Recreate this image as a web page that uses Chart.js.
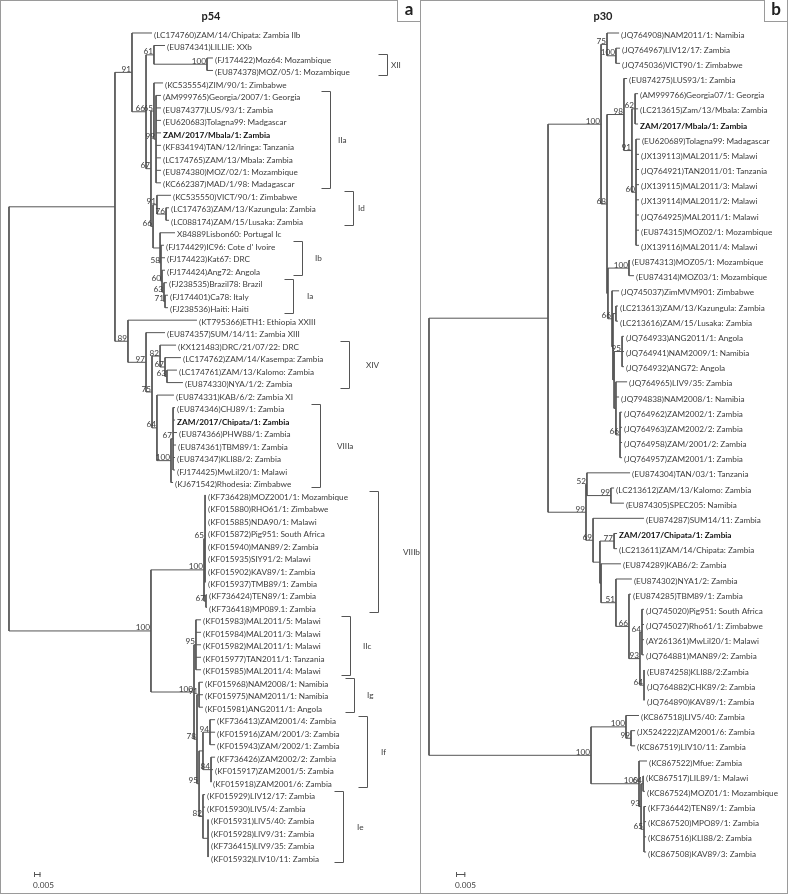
<!DOCTYPE html>
<html>
<head>
<meta charset="utf-8">
<script src="https://cdn.jsdelivr.net/npm/chart.js@4.4.1/dist/chart.umd.min.js"></script>
<style>
  body { margin: 0; background: #fff; }
  #wrap { position: relative; width: 788px; height: 894px; font-family: Lato, sans-serif; }
  canvas { position: absolute; top: 0; }
  .frame { position: absolute; left: 0; top: 0; width: 788px; height: 894px; box-sizing: border-box; border: 1px solid #9a9a9a; pointer-events: none; }
  .divider { position: absolute; left: 420px; top: 0; width: 1px; height: 894px; background: #9a9a9a; }
  .tag { position: absolute; top: 0; width: 24px; height: 22px; box-sizing: border-box; border: 1px solid #9a9a9a; border-top: none; background: #fff;
         font: bold 17px Lato, sans-serif; text-align: center; line-height: 18px; color: #222; }
</style>
</head>
<body>
<div id="wrap">
  <canvas id="treeA" width="421" height="894" style="left:0"></canvas>
  <canvas id="treeB" width="367" height="894" style="left:421px"></canvas>
  <div class="frame"></div>
  <div class="divider"></div>
  <div class="tag" style="left:397px">a</div>
  <div class="tag" style="left:764px">b</div>
</div>
<script>
// ---------- panel a : p54 ----------
const leavesA = [
  "(LC174760)ZAM/14/Chipata: Zambia IIb", "(EU874341)LILLIE: XXb", "(FJ174422)Moz64: Mozambique",
  "(EU874378)MOZ/05/1: Mozambique", "(KC535554)ZIM/90/1: Zimbabwe", "(AM999765)Georgia/2007/1: Georgia",
  "(EU874377)LUS/93/1: Zambia", "(EU620683)Tolagna99: Madgascar", "ZAM/2017/Mbala/1: Zambia",
  "(KF834194)TAN/12/Iringa: Tanzania", "(LC174765)ZAM/13/Mbala: Zambia", "(EU874380)MOZ/02/1: Mozambique",
  "(KC662387)MAD/1/98: Madagascar", "(KC535550)VICT/90/1: Zimbabwe", "(LC174763)ZAM/13/Kazungula: Zambia",
  "(LC088174)ZAM/15/Lusaka: Zambia", "X84889Lisbon60: Portugal Ic", "(FJ174429)IC96: Cote d' Ivoire",
  "(FJ174423)Kat67: DRC", "(FJ174424)Ang72: Angola", "(FJ238535)Brazil78: Brazil",
  "(FJ174401)Ca78: Italy", "(FJ238536)Haiti: Haiti", "(KT795366)ETH1: Ethiopia XXIII",
  "(EU874357)SUM/14/11: Zambia XIII", "(KX121483)DRC/21/07/22: DRC", "(LC174762)ZAM/14/Kasempa: Zambia",
  "(LC174761)ZAM/13/Kalomo: Zambia", "(EU874330)NYA/1/2: Zambia", "(EU874331)KAB/6/2: Zambia XI",
  "(EU874346)CHJ89/1: Zambia", "ZAM/2017/Chipata/1: Zambia", "(EU874366)PHW88/1: Zambia",
  "(EU874361)TBM89/1: Zambia", "(EU874347)KLI88/2: Zambia", "(FJ174425)MwLil20/1: Malawi",
  "(KJ671542)Rhodesia: Zimbabwe", "(KF736428)MOZ2001/1: Mozambique", "(KF015880)RHO61/1: Zimbabwe",
  "(KF015885)NDA90/1: Malawi", "(KF015872)Pig951: South Africa", "(KF015940)MAN89/2: Zambia",
  "(KF015935)SIY91/2: Malawi", "(KF015902)KAV89/1: Zambia", "(KF015937)TMB89/1: Zambia",
  "(KF736424)TEN89/1: Zambia", "(KF736418)MP089.1: Zambia", "(KF015983)MAL2011/5: Malawi",
  "(KF015984)MAL2011/3: Malawi", "(KF015982)MAL2011/1: Malawi", "(KF015977)TAN2011/1: Tanzania",
  "(KF015985)MAL2011/4: Malawi", "(KF015968)NAM2008/1: Namibia", "(KF015975)NAM2011/1: Namibia",
  "(KF015981)ANG2011/1: Angola", "(KF736413)ZAM2001/4: Zambia", "(KF015916)ZAM/2001/3: Zambia",
  "(KF015943)ZAM/2002/1: Zambia", "(KF736426)ZAM2002/2: Zambia", "(KF015917)ZAM2001/5: Zambia",
  "(KF015918)ZAM2001/6: Zambia", "(KF015929)LIV12/17: Zambia", "(KF015930)LIV5/4: Zambia",
  "(KF015931)LIV5/40: Zambia", "(KF015928)LIV9/31: Zambia", "(KF736415)LIV9/35: Zambia",
  "(KF015932)LIV10/11: Zambia"
];
// distance from root of each tip (substitutions/site)
const tipA = [
  0.1100, 0.1200, 0.1569, 0.1569, 0.1185, 0.1169, 0.1169, 0.1169, 0.1169, 0.1169,
  0.1169, 0.1169, 0.1169, 0.1246, 0.1231, 0.1231, 0.1277, 0.1192, 0.1200, 0.1200,
  0.1215, 0.1223, 0.1223, 0.1446, 0.1200, 0.1285, 0.1323, 0.1292, 0.1338, 0.1269,
  0.1277, 0.1277, 0.1292, 0.1285, 0.1277, 0.1277, 0.1262, 0.1515, 0.1515, 0.1515,
  0.1515, 0.1515, 0.1515, 0.1515, 0.1515, 0.1523, 0.1523, 0.1477, 0.1477, 0.1477,
  0.1477, 0.1477, 0.1492, 0.1492, 0.1492, 0.1585, 0.1585, 0.1585, 0.1585, 0.1569,
  0.1554, 0.1508, 0.1508, 0.1538, 0.1538, 0.1538, 0.1538
];
const boldA = [8, 31];
// internal nodes: children (leaf index >= 0, -k = node k), depth, bootstrap
const kidsA = [
  [-1, -26], [-2, -17], [0, -3], [-4, -6], [1, -5], [2, 3], [-7, -9], [4, -8],
  [5, 6, 7, 8, 9, 10, 11, 12], [-10, -12], [13, -11], [14, 15], [16, -13], [17, 18, -14],
  [19, -15], [20, -16], [21, 22], [23, -18], [24, -19], [-20, -23], [25, -21], [26, -22],
  [27, 28], [29, -24], [-25, 36], [30, 31, 32, 33, 34, 35], [-27, -30], [-28, -29],
  [37, 38, 39, 40, 41, 42, 43, 44], [45, 46], [-31, -32], [47, 48, 49, 50, 51], [-33, -34],
  [52, 53, 54], [-35, -38], [-36, -37], [55, 56, 57], [58, 59, 60], [61, 62, -39], [63, 64, 65, 66]
];
const nodeDepthA = [
  0, 0.0815, 0.0946, 0.1054, 0.1115, 0.1523, 0.1092, 0.1115, 0.1131, 0.1108,
  0.1138, 0.1208, 0.1162, 0.1169, 0.1177, 0.1192, 0.1200, 0.0915, 0.1054, 0.1100,
  0.1162, 0.1200, 0.1215, 0.1138, 0.1246, 0.1262, 0.1092, 0.1500, 0.1508, 0.1515,
  0.1423, 0.1438, 0.1446, 0.1462, 0.1462, 0.1492, 0.1546, 0.1554, 0.1492, 0.1531
];
const supportA = [
  "", "", 91, 66, 61, 100, 67, 65, 99, 66, 91, 76, "", 58, 60, 63, 71, 89, 97, 75,
  82, 67, 63, 64, 100, 67, 100, 100, 65, 67, 100, 95, 78, 91, 95, "", 94, 84, 82, ""
];
const cladeNameA = ["XII", "IIa", "Id", "Ib", "Ia", "XIV", "VIIIa", "VIIIb", "IIc", "Ig", "If", "Ie"];
const cladeFromA = [2, 5, 13, 17, 20, 25, 30, 37, 47, 52, 55, 61];
const cladeToA   = [3, 12, 15, 19, 22, 28, 36, 46, 51, 54, 60, 66];

// ---------- panel b : p30 ----------
const leavesB = [
  "(JQ764908)NAM2011/1: Namibia", "(JQ764967)LIV12/17: Zambia", "(JQ745036)VICT90/1: Zimbabwe",
  "(EU874275)LUS93/1: Zambia", "(AM999766)Georgia07/1: Georgia", "(LC213615)Zam/13/Mbala: Zambia",
  "ZAM/2017/Mbala/1: Zambia", "(EU620689)Tolagna99: Madagascar", "(JX139113)MAL2011/5: Malawi",
  "(JQ764921)TAN2011/01: Tanzania", "(JX139115)MAL2011/3: Malawi", "(JX139114)MAL2011/2: Malawi",
  "(JQ764925)MAL2011/1: Malawi", "(EU874315)MOZ02/1: Mozambique", "(JX139116)MAL2011/4: Malawi",
  "(EU874313)MOZ05/1: Mozambique", "(EU874314)MOZ03/1: Mozambique", "(JQ745037)ZimMVM901: Zimbabwe",
  "(LC213613)ZAM/13/Kazungula: Zambia", "(LC213616)ZAM/15/Lusaka: Zambia", "(JQ764933)ANG2011/1: Angola",
  "(JQ764941)NAM2009/1: Namibia", "(JQ764932)ANG72: Angola", "(JQ764965)LIV9/35: Zambia",
  "(JQ794838)NAM2008/1: Namibia", "(JQ764962)ZAM2002/1: Zambia", "(JQ764963)ZAM2002/2: Zambia",
  "(JQ764958)ZAM/2001/2: Zambia", "(JQ764957)ZAM2001/1: Zambia", "(EU874304)TAN/03/1: Tanzania",
  "(LC213612)ZAM/13/Kalomo: Zambia", "(EU874305)SPEC205: Namibia", "(EU874287)SUM14/11: Zambia",
  "ZAM/2017/Chipata/1: Zambia", "(LC213611)ZAM/14/Chipata: Zambia", "(EU874289)KAB6/2: Zambia",
  "(EU874302)NYA1/2: Zambia", "(EU874285)TBM89/1: Zambia", "(JQ745020)Pig951: South Africa",
  "(JQ745027)Rho61/1: Zimbabwe", "(AY261361)MwLil20/1: Malawi", "(JQ764881)MAN89/2: Zambia",
  "(EU874258)KLI88/2:Zambia", "(JQ764882)CHK89/2: Zambia", "(JQ764890)KAV89/1: Zambia",
  "(KC867518)LIV5/40: Zambia", "(JX524222)ZAM2001/6: Zambia", "(KC867519)LIV10/11: Zambia",
  "(KC867522)Mfue: Zambia", "(KC867517)LIL89/1: Malawi", "(KC867524)MOZ01/1: Mozambique",
  "(KF736442)TEN89/1: Zambia", "(KC867520)MPO89/1: Zambia", "(KC867516)KLI88/2: Zambia",
  "(KC867508)KAV89/3: Zambia"
];
const tipB = [
  0.1022, 0.1027, 0.1027, 0.1065, 0.1124, 0.1124, 0.1124, 0.1134, 0.1129, 0.1129,
  0.1129, 0.1129, 0.1129, 0.1129, 0.1129, 0.1081, 0.1102, 0.1022, 0.1016, 0.1016,
  0.1048, 0.1048, 0.1048, 0.1065, 0.1022, 0.1038, 0.1038, 0.1038, 0.1038, 0.1081,
  0.0995, 0.1048, 0.1156, 0.1011, 0.1011, 0.1032, 0.1091, 0.1086, 0.1156, 0.1156,
  0.1156, 0.1156, 0.1161, 0.1161, 0.1161, 0.1129, 0.1108, 0.1108, 0.1172, 0.1156,
  0.1161, 0.1167, 0.1167, 0.1167, 0.1167
];
const boldB = [6, 33];
const kidsB = [
  [-1, -31], [-2, -19], [-3, -5], [0, -4], [1, 2], [-6, -10], [3, -7], [-8, -9],
  [4, 5, 6], [7, 8, 9, 10, 11, 12, 13, 14], [-11, -12], [15, 16], [17, -13], [-14, -15],
  [18, 19], [-16, -17], [20, 21, 22], [23, 24, -18], [25, 26, 27, 28], [-20, -22],
  [29, -21], [30, 31], [32, -23], [-24, -25], [33, 34], [35, -26], [36, -27], [37, -28],
  [-29, -30], [38, 39, 40, 41], [42, 43, 44], [-32, -34], [45, -33], [46, 47], [48, -35],
  [-36, -37], [49, 50], [51, 52, 53, 54]
];
const nodeDepthB = [
  0, 0.0640, 0.0925, 0.0957, 0.1005, 0.0957, 0.1048, 0.1091, 0.1108, 0.1113,
  0.0962, 0.1075, 0.0984, 0.0989, 0.1005, 0.0995, 0.1038, 0.1005, 0.1027, 0.0844,
  0.0849, 0.0978, 0.0882, 0.0919, 0.0995, 0.0925, 0.1005, 0.1075, 0.1134, 0.1145,
  0.1156, 0.0871, 0.1059, 0.1086, 0.1129, 0.1140, 0.1151, 0.1156
];
const supportB = [
  "", "", 100, 75, 100, 68, 98, 91, 62, 60, "", 100, 66, "", "", "", 95, "", 66, 99,
  52, 99, 69, "", 77, "", 51, 66, 93, 64, 64, 100, 100, 99, 100, 93, 64, 65
];

const scaleBarLen = 0.005;

// layout the tree: leaves sit on rows 0..n-1, nodes in the middle of first/last child
function layoutTree(kids, depth, tips) {
  const nodeY = [];
  const place = n => {
    const ys = kids[n].map(c => c >= 0 ? c : place(-c));
    nodeY[n] = (ys[0] + ys[ys.length - 1]) / 2;
    return nodeY[n];
  };
  place(0);
  const pts = [];
  const gap = { x: null, y: null };
  kids.forEach((ks, n) => {
    const x0 = depth[n];
    const ys = ks.map(c => c >= 0 ? c : nodeY[-c]);
    pts.push({ x: x0, y: ys[0] }, { x: x0, y: ys[ys.length - 1] }, gap);
    ks.forEach((c, i) => {
      const x1 = c >= 0 ? tips[c] : depth[-c];
      pts.push({ x: x0, y: ys[i] }, { x: x1, y: ys[i] }, gap);
    });
  });
  return { pts, nodeY };
}

const FONT = "8.2px Lato";
const BOLD = "bold 8.2px Lato";

function treeTextPlugin(cfg) {
  return {
    id: "treeText",
    afterDatasetsDraw(chart) {
      const { ctx, scales: { x, y } } = chart;
      ctx.save();
      // tip labels
      ctx.textAlign = "left";
      ctx.textBaseline = "middle";
      cfg.leaves.forEach((name, i) => {
        const b = cfg.bold.includes(i);
        ctx.font = b ? BOLD : FONT;
        ctx.fillStyle = b ? "#111" : "#3c3c3c";
        ctx.fillText(name, x.getPixelForValue(cfg.tips[i]) + 2, y.getPixelForValue(i) + 2);
      });
      // bootstrap values
      ctx.font = FONT;
      ctx.fillStyle = "#3c3c3c";
      ctx.textAlign = "right";
      ctx.textBaseline = "bottom";
      cfg.support.forEach((s, n) => {
        if (s === "") return;
        ctx.fillText(String(s), x.getPixelForValue(cfg.depth[n]) - 1, y.getPixelForValue(cfg.nodeY[n]) + 1);
      });
      // clade brackets
      ctx.strokeStyle = "#555";
      ctx.lineWidth = 1;
      ctx.textAlign = "left";
      ctx.textBaseline = "middle";
      (cfg.clades || []).forEach((name, k) => {
        const top = Math.round(y.getPixelForValue(cfg.cladeFrom[k])) - 3.5;
        const bot = Math.round(y.getPixelForValue(cfg.cladeTo[k])) + 5.5;
        const bx = cfg.bracketX[k] + 0.5;
        ctx.beginPath();
        ctx.moveTo(bx - 9, top);
        ctx.lineTo(bx, top);
        ctx.lineTo(bx, bot);
        ctx.lineTo(bx - 9, bot);
        ctx.stroke();
        ctx.fillText(name, cfg.cladeTextX[k], (top + bot) / 2);
      });
      // title
      ctx.font = "bold 11px Lato";
      ctx.fillStyle = "#222";
      ctx.textAlign = "center";
      ctx.fillText(cfg.title, cfg.titleX, 16);
      // scale bar
      const len = x.getPixelForValue(scaleBarLen) - x.getPixelForValue(0);
      const sx = cfg.barX, sy = 874.5;
      ctx.beginPath();
      ctx.moveTo(sx, sy); ctx.lineTo(sx + len, sy);
      ctx.moveTo(sx + 0.5, sy - 2.5); ctx.lineTo(sx + 0.5, sy + 2.5);
      ctx.moveTo(sx + len - 0.5, sy - 2.5); ctx.lineTo(sx + len - 0.5, sy + 2.5);
      ctx.stroke();
      ctx.font = FONT;
      ctx.fillStyle = "#3c3c3c";
      ctx.textAlign = "left";
      ctx.fillText(scaleBarLen.toFixed(3), cfg.barX - 1, 885);
      ctx.restore();
    }
  };
}

function drawTree(id, cfg, xr, yr) {
  const tree = layoutTree(cfg.kids, cfg.depth, cfg.tips);
  cfg.nodeY = tree.nodeY;
  return new Chart(document.getElementById(id), {
    type: "scatter",
    data: {
      datasets: [{
        data: tree.pts,
        showLine: true,
        spanGaps: false,
        borderColor: "#555",
        borderWidth: 1,
        pointRadius: 0,
        pointHoverRadius: 0
      }]
    },
    options: {
      responsive: false,
      animation: false,
      devicePixelRatio: 1,
      events: [],
      layout: { padding: 0 },
      plugins: { legend: { display: false }, tooltip: { enabled: false } },
      scales: {
        x: { type: "linear", display: false, min: xr[0], max: xr[1] },
        y: { type: "linear", display: false, min: yr[0], max: yr[1], reverse: true }
      }
    },
    plugins: [treeTextPlugin(cfg)]
  });
}

drawTree("treeA", {
  leaves: leavesA, tips: tipA, bold: boldA, kids: kidsA, depth: nodeDepthA, support: supportA,
  clades: cladeNameA, cladeFrom: cladeFromA, cladeTo: cladeToA,
  bracketX: [387, 330, 353, 302, 293, 349, 320, 378, 350, 354, 367, 343],
  cladeTextX: [391, 338, 358, 315, 307, 366, 337, 403, 363, 367, 381, 357],
  title: "p54", titleX: 211, barX: 34
}, [-0.00692, 0.3169], [-2.643, 68.96]);

drawTree("treeB", {
  leaves: leavesB, tips: tipB, bold: boldB, kids: kidsB, depth: nodeDepthB, support: supportB,
  title: "p30", titleX: 182, barX: 35
}, [-0.0043, 0.1930], [-2.176, 56.77]);
</script>
</body>
</html>
